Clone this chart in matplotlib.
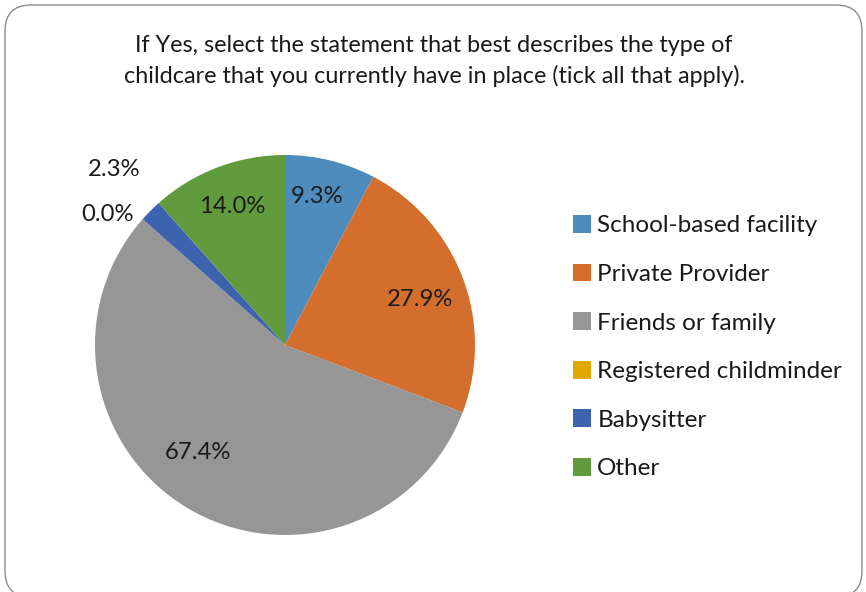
import matplotlib
matplotlib.use("Agg")
import matplotlib.pyplot as plt
import numpy as np
from matplotlib.patches import FancyBboxPatch, Patch

categories = ["School-based facility", "Private Provider", "Friends or family",
              "Registered childminder", "Babysitter", "Other"]
values = [9.3, 27.9, 67.4, 0.0, 2.3, 14.0]
colors = ["#4F8CBE", "#D46E2C", "#969696", "#E0A800", "#3D63AE", "#629B3E"]
label_radius = [0.80, 0.75, 0.73, 1.16, 1.29, 0.78]
label_angle_shift = [1.5, -2.0, -8.0, 5.0, -1.0, 0.0]
title = "If Yes, select the statement that best describes the type of\nchildcare that you currently have in place (tick all that apply)."

plt.rcParams['font.family'] = ['Lato', 'DejaVu Sans']

fig = plt.figure(figsize=(8.66, 5.92), dpi=100)
W, H = 866, 592

# rounded border
border = FancyBboxPatch((5, -5), 857, 592, boxstyle="round,pad=0,rounding_size=26",
                        transform=None, facecolor="none", edgecolor="#8C8C8C",
                        linewidth=1.0, zorder=-1)
fig.patches.append(border)

cx, cy, r = 285, 345, 190
ax = fig.add_axes([(cx - r) / W, (H - cy - r) / H, 2 * r / W, 2 * r / H])
wedges, _ = ax.pie(values, colors=colors, startangle=90, counterclock=False,
                   radius=1.0, wedgeprops=dict(linewidth=0))
ax.set_xlim(-1, 1)
ax.set_ylim(-1, 1)
ax.set_aspect('auto')
ax.axis('off')

for w, v, rr, sh in zip(wedges, values, label_radius, label_angle_shift):
    mid = np.deg2rad((w.theta1 + w.theta2) / 2 + sh)
    ax.text(rr * np.cos(mid), rr * np.sin(mid), f"{v:.1f}%", ha='center', va='center',
            fontsize=17.2, color="#1a1a1a", clip_on=False)

fig.text(434 / W, 1 - 61 / H, title, ha='center', va='center', fontsize=16.8,
         color="#1a1a1a", linespacing=1.5)

handles = [Patch(facecolor=c, edgecolor='none') for c in colors]
fig.legend(handles, categories, loc='upper left', bbox_to_anchor=(573 / W, 1 - 215 / H),
           frameon=False, fontsize=17.5, labelspacing=1.12, handlelength=0.75,
           handleheight=0.75, handletextpad=0.25, borderpad=0, borderaxespad=0,
           labelcolor="#1a1a1a")

fig.savefig("out.png", dpi=100)
